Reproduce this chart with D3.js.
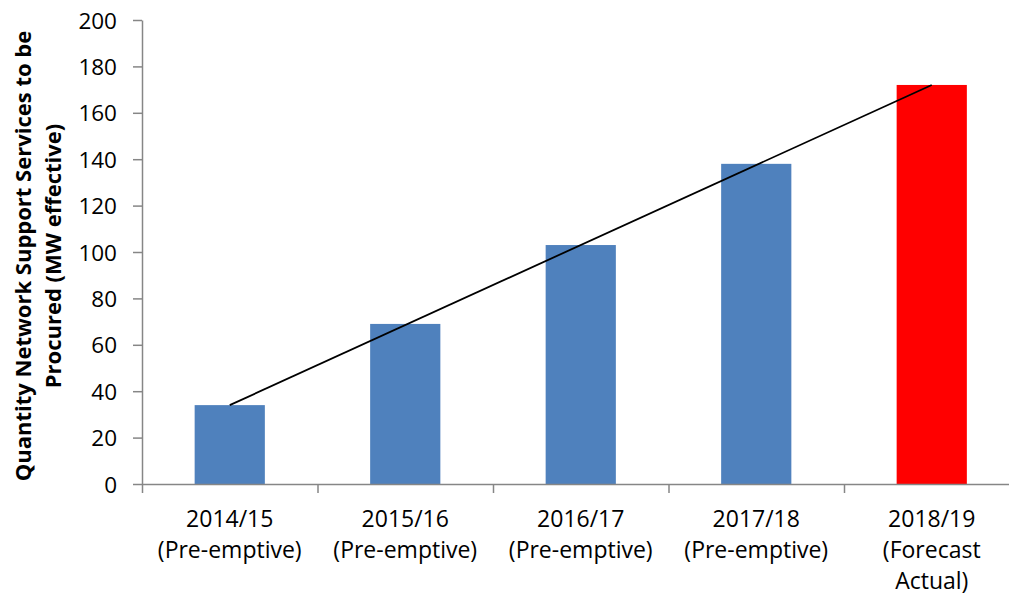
<!DOCTYPE html>
<html>
<head>
<meta charset="utf-8">
<script src="https://cdn.jsdelivr.net/npm/d3@7"></script>
<style>
  body { margin: 0; background: #fff; }
  svg text { font-family: "Open Sans", sans-serif; fill: #000; }
</style>
</head>
<body>
<svg id="chart" width="1009" height="595"></svg>
<script>
// data
const categories = ['2014/15', '2015/16', '2016/17', '2017/18', '2018/19']
const sublabels = [['(Pre-emptive)'], ['(Pre-emptive)'], ['(Pre-emptive)'], ['(Pre-emptive)'], ['(Forecast', 'Actual)']]
const values = [34, 69, 103, 138, 172]
const bar_colors = ['#4F81BD', '#4F81BD', '#4F81BD', '#4F81BD', '#FF0000']
// straight line joining the first and last years
const trend_cats = ['2014/15', '2018/19']
const trend_vals = [34, 172]
const y_ticks = [0, 20, 40, 60, 80, 100, 120, 140, 160, 180, 200]

const svg = d3.select('#chart')
const plotLeft = 142, plotTop = 20, plotBottom = 484
const plotRight = plotLeft + 175.5 * categories.length
const fontFam = '"Open Sans", sans-serif'

const x = d3.scaleBand(categories, [plotLeft, plotRight]).padding(0)
const y = d3.scaleLinear([0, 200], [plotBottom, plotTop])
const barW = x.bandwidth() * 0.4
const axisColor = '#868686'

// bars
svg.append('g')
   .selectAll('rect')
   .data(values)
   .join('rect')
     .attr('x', (d, i) => x(categories[i]) + x.bandwidth() / 2 - barW / 2)
     .attr('y', d => y(d))
     .attr('width', barW)
     .attr('height', d => y(0) - y(d))
     .attr('fill', (d, i) => bar_colors[i])

// trend line
const line = d3.line()
               .x((d, i) => x(trend_cats[i]) + x.bandwidth() / 2)
               .y(d => y(d))
svg.append('path')
   .attr('d', line(trend_vals))
   .attr('fill', 'none')
   .attr('stroke', '#000')
   .attr('stroke-width', 1.8)

// y axis
const yAxis = svg.append('g')
   .attr('transform', `translate(${plotLeft},0)`)
   .call(d3.axisLeft(y).tickValues(y_ticks).tickSize(9).tickPadding(16).tickSizeOuter(0))
yAxis.select('.domain').attr('stroke', axisColor).attr('stroke-width', 1.5)
yAxis.selectAll('line').attr('stroke', axisColor).attr('stroke-width', 1.5)
yAxis.selectAll('text').attr('font-size', 22.5).attr('dy', '0.36em')
     .style('font-family', fontFam).attr('fill', '#000')

// x axis: ticks on category boundaries
const xb = d3.scaleLinear([0, categories.length], [plotLeft, plotRight])
const xAxis = svg.append('g')
   .attr('transform', `translate(0,${plotBottom})`)
   .call(d3.axisBottom(xb).ticks(categories.length).tickSize(9).tickSizeOuter(0).tickFormat(''))
xAxis.select('.domain').attr('stroke', axisColor).attr('stroke-width', 1.5)
xAxis.selectAll('line').attr('stroke', axisColor).attr('stroke-width', 1.5)

// category labels
const labels = svg.append('g')
   .selectAll('text')
   .data(categories)
   .join('text')
     .attr('text-anchor', 'middle')
     .attr('font-size', 23)
     .attr('x', d => x(d) + x.bandwidth() / 2)
     .attr('y', 527)
labels.each(function(d, i) {
    const t = d3.select(this)
    t.append('tspan').attr('x', x(d) + x.bandwidth() / 2).text(d)
    sublabels[i].forEach(s => t.append('tspan').attr('x', x(d) + x.bandwidth() / 2).attr('dy', 31).text(s))
})

// y axis title
const ytitle = svg.append('text')
   .attr('transform', `translate(0,256) rotate(-90)`)
   .attr('text-anchor', 'middle')
   .attr('font-size', 22)
   .attr('font-weight', 'bold')
ytitle.append('tspan').attr('x', 0).attr('y', 31).text('Quantity Network Support Services to be')
ytitle.append('tspan').attr('x', 0).attr('y', 61).text('Procured (MW effective)')
</script>
</body>
</html>
